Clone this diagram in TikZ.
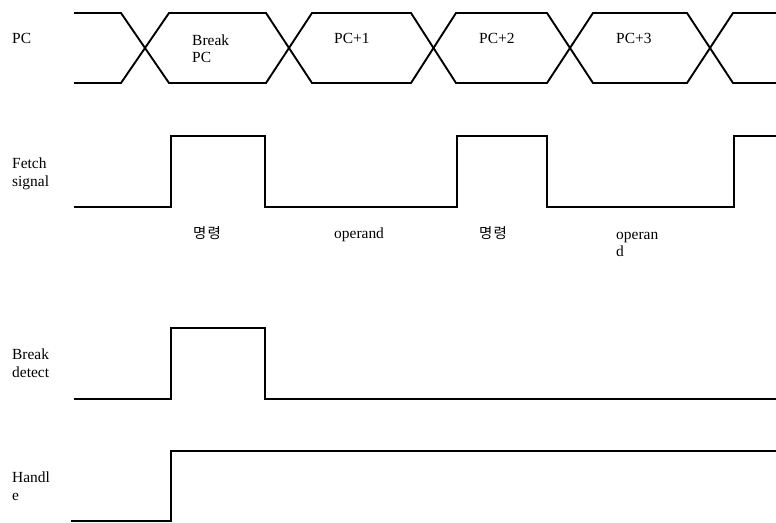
\documentclass[tikz,border=0pt]{standalone}
\usepackage{fontspec}
\setmainfont{Liberation Serif}
\newfontfamily\krfont[LetterSpace=8]{Noto Sans CJK KR}
\begin{document}
\begin{tikzpicture}[x=1bp,y=-1bp,
  wave/.style={line width=1.9bp, line join=miter},
  lbl/.style={anchor=base west, inner sep=0pt, align=left,
    font=\fontsize{15.5}{18}\selectfont},
  krlbl/.style={anchor=base west, inner sep=0pt,
    font=\krfont\fontsize{14.5}{18}\selectfont}]
\useasboundingbox (0,0) rectangle (776,523);
% PC bus
\draw[wave] (74,13) -- (121,13) -- (169,83) -- (266,83) -- (312,13) -- (411,13) -- (456,83) -- (547,83) -- (593,13) -- (687,13) -- (733,83) -- (776,83);
\draw[wave] (74,83) -- (121,83) -- (169,13) -- (266,13) -- (312,83) -- (411,83) -- (456,13) -- (547,13) -- (593,83) -- (687,83) -- (733,13) -- (776,13);
% Fetch signal
\draw[wave] (74,206.7) -- (171,206.7) -- (171,135.7) -- (265,135.7) -- (265,206.7) -- (457,206.7) -- (457,135.7) -- (546.7,135.7) -- (546.7,206.7) -- (734,206.7) -- (734,135.7) -- (776,135.7);
% Break detect
\draw[wave] (74,399) -- (171,399) -- (171,327.7) -- (265,327.7) -- (265,399) -- (776,399);
% Handle
\draw[wave] (71,521) -- (171,521) -- (171,451) -- (776,451);
% labels (multi-line nodes anchored at the baseline of their last line)
\node[lbl] (pc) at (12,44) {PC};
\node[lbl] (bpc) at (192,63) {Break\\PC};
\node[lbl] (pc1) at (334,44) {PC+1};
\node[lbl] (pc2) at (479,44) {PC+2};
\node[lbl] (pc3) at (616,44) {PC+3};
\node[lbl] (fetch) at (12,186.3) {Fetch\\signal};
\node[krlbl] (m1) at (193,239) {명령};
\node[lbl] (op1) at (334,239) {operand};
\node[krlbl] (m2) at (479,239) {명령};
\node[lbl] (op2) at (616,257) {operan\\d};
\node[lbl] (bd) at (12,377) {Break\\detect};
\node[lbl] (hd) at (12,500.7) {Handl\\e};
\end{tikzpicture}
\end{document}
